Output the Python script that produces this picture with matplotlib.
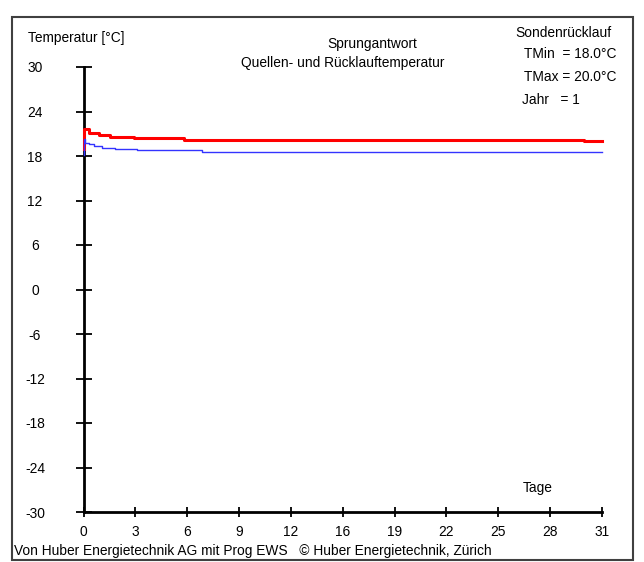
import matplotlib
matplotlib.use("Agg")
import matplotlib.pyplot as plt
from matplotlib import font_manager
from matplotlib.patches import Rectangle

# ---- data ----
x_ticks = [0, 3.1, 6.2, 9.3, 12.4, 15.5, 18.6, 21.7, 24.8, 27.9, 31.0]
x_tick_labels = ["0", "3", "6", "9", "12", "16", "19", "22", "25", "28", "31"]
y_ticks = [30, 24, 18, 12, 6, 0, -6, -12, -18, -24, -30]
y_tick_labels = ["30", "24", "18", "12", "6", "0", "-6", "-12", "-18", "-24", "-30"]

red_days = [0, 0, 0.3, 0.9, 1.6, 3.0, 6.0, 29.9, 31.0]
red_temp = [19.0, 21.7, 21.1, 20.8, 20.6, 20.4, 20.2, 20.0, 20.0]
blue_days = [0, 0, 0.1, 0.3, 0.65, 1.1, 1.9, 3.2, 7.1, 31.0]
blue_temp = [18.2, 20.3, 19.8, 19.6, 19.4, 19.1, 18.95, 18.8, 18.6, 18.6]

W, H = 644, 562
avail = {f.name for f in font_manager.fontManager.ttflist}
fam = "Liberation Sans Narrow" if "Liberation Sans Narrow" in avail else "Liberation Sans"
plt.rcParams['font.family'] = [fam, 'DejaVu Sans']
FS = 9.9

fig = plt.figure(figsize=(W / 100, H / 100), dpi=100)
fig.patch.set_facecolor("white")

def fx(px):
    return px / W

def fy(py):
    return 1 - py / H

# frame
fig.add_artist(Rectangle((fx(12), fy(560)), fx(633) - fx(12), fy(17) - fy(560),
                         transform=fig.transFigure, fill=False,
                         edgecolor="#404040", linewidth=1.5))

ax_l, ax_r, ax_t, ax_b = 83.5, 602, 67, 512
ax = fig.add_axes([fx(ax_l), fy(ax_b), fx(ax_r) - fx(ax_l), fy(ax_t) - fy(ax_b)])
ax.set_facecolor("none")
ax.set_xlim(0, 31)
ax.set_ylim(-30, 30)
for s in ["top", "right"]:
    ax.spines[s].set_visible(False)
for s in ["left", "bottom"]:
    ax.spines[s].set_linewidth(2)
    ax.spines[s].set_color("black")

ax.step(red_days, red_temp, where="post", color="#ff0000", linewidth=2.2, zorder=3,
        clip_on=False)
ax.step(blue_days, blue_temp, where="post", color="#3333ff", linewidth=1.0, zorder=4,
        clip_on=False)

ax.set_xticks(x_ticks)
ax.set_xticklabels(x_tick_labels)
ax.set_yticks(y_ticks)
ax.set_yticklabels(y_tick_labels)
ax.tick_params(axis="y", direction="inout", length=12, width=1.3, colors="black",
               labelsize=FS, pad=29)
ax.tick_params(axis="x", direction="inout", length=7, width=1.3, colors="black",
               labelsize=FS, pad=6)
for lbl in ax.get_yticklabels():
    lbl.set_horizontalalignment("center")

tk = dict(fontsize=FS, color="black", va="center")
fig.text(fx(28), fy(38), "Temperatur [°C]", ha="left", **tk)
fig.text(fx(372), fy(44), "Sprungantwort", ha="center", **tk)
fig.text(fx(343), fy(63), "Quellen- und Rücklauftemperatur", ha="center", **tk)
fig.text(fx(515), fy(33), "Sondenrücklauf", ha="left", **tk)
fig.text(fx(524), fy(54), "TMin  = 18.0°C", ha="left", **tk)
fig.text(fx(524), fy(77), "TMax = 20.0°C", ha="left", **tk)
fig.text(fx(522), fy(100), "Jahr   = 1", ha="left", **tk)
fig.text(fx(523), fy(488), "Tage", ha="left", **tk)
fig.text(fx(14), fy(551), "Von Huber Energietechnik AG mit Prog EWS   © Huber Energietechnik, Zürich",
         ha="left", **tk)

fig.savefig("out.png", dpi=100, facecolor="white")
